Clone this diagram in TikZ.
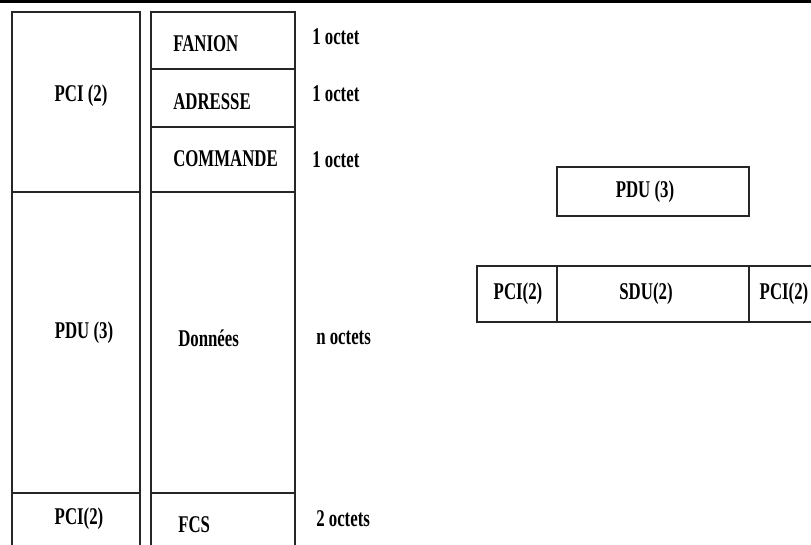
\documentclass[tikz,border=0pt]{standalone}
\usepackage{fontspec}
\setmainfont{Liberation Serif}[FakeStretch=0.7]
\usetikzlibrary{positioning}

\begin{document}
\begin{tikzpicture}[
  x=0.75pt, y=-0.75pt,
  cell/.style={draw=black!85, line width=0.8pt},
  lbl/.style={font=\fontsize{18}{20}\selectfont\bfseries, inner sep=0pt},
  lblw/.style={lbl, anchor=west},
]
\useasboundingbox (0,0) rectangle (811,544);
\clip (0,0) rectangle (811,544);

% Top rule
\draw[line width=2.2pt] (0,1.5) -- (811,1.5);

% =============================================
% Left: PCI / PDU column
% =============================================
\draw[cell] (12,12) rectangle (140,192);
\draw[cell] (12,192) rectangle (140,493);
\draw[cell] (12,493) rectangle (140,560);

\node[lbl] (pcitop) at (81,96) {PCI (2)};
\node[lbl] (pduleft) at (84,333) {PDU (3)};
\node[lbl] (pcibot) at (79,519) {PCI(2)};

% =============================================
% Frame fields
% =============================================
\draw[cell] (151,12) rectangle (295,69);
\draw[cell] (151,69) rectangle (295,127);
\draw[cell] (151,127) rectangle (295,192);
\draw[cell] (151,192) rectangle (295,493);
\draw[cell] (151,493) rectangle (295,560);

\node[lblw] (fanion) at (173,44) {FANION};
\node[lblw] (adresse) at (173,102) {ADRESSE};
\node[lblw] (commande) at (173,159) {COMMANDE};
\node[lblw] (donnees) at (178,338) {Données};
\node[lblw] (fcs) at (178,525) {FCS};

% Field sizes
\node[lblw] (szfanion) at (312,37) {1 octet};
\node[lblw] (szadresse) at (312,94) {1 octet};
\node[lblw] (szcommande) at (312,160) {1 octet};
\node[lblw] (szdonnees) at (316,338) {n octets};
\node[lblw] (szfcs) at (316,519) {2 octets};

% =============================================
% Right: encapsulation
% =============================================
\draw[cell] (557,167) rectangle (749,216);
\node[lbl] (pduright) at (645,192) {PDU (3)};

\draw[cell] (477,266) rectangle (557,322);
\draw[cell] (557,266) rectangle (749,322);
\draw[cell] (749,266) rectangle (830,322);

\node[lbl] (pcihead) at (518,294) {PCI(2)};
\node[lbl] (sdu) at (646,294) {SDU(2)};
\node[lbl] (pcitail) at (784,294) {PCI(2)};

\end{tikzpicture}
\end{document}
